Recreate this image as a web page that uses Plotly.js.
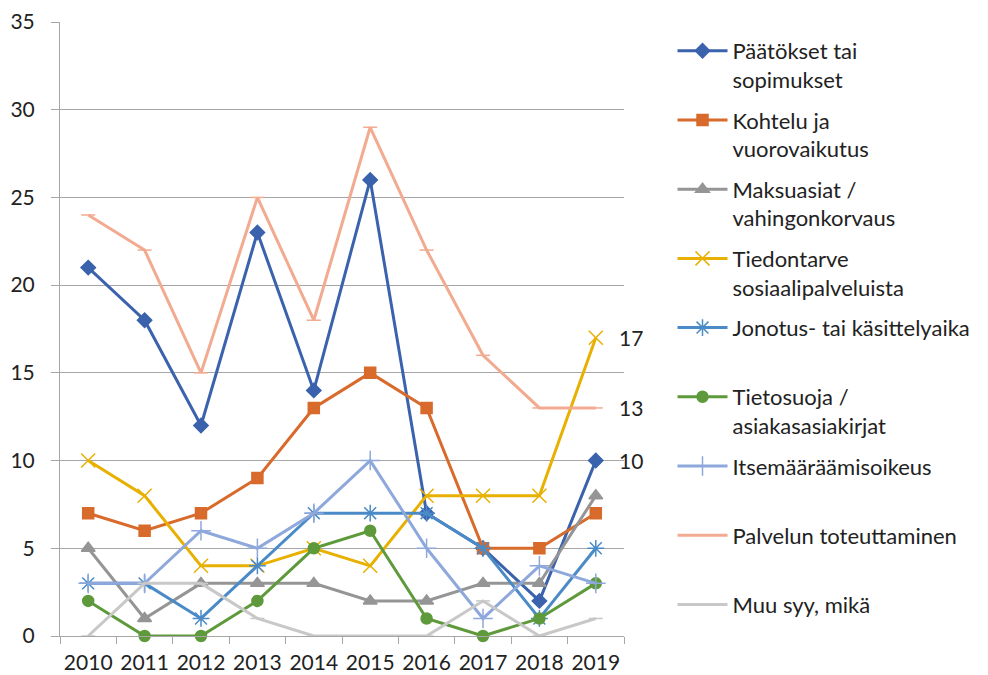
<!DOCTYPE html>
<html>
<head>
<meta charset="utf-8">
<script src="https://cdn.plot.ly/plotly-3.0.1.min.js"></script>
<style>html,body{margin:0;padding:0;background:#fff;}#chart{width:988px;height:675px;}</style>
</head>
<body>
<div id="chart"></div>
<script>
const years = ["2010","2011","2012","2013","2014","2015","2016","2017","2018","2019"];
const seriesNames = [
  "Päätökset tai<br>sopimukset",
  "Kohtelu ja<br>vuorovaikutus",
  "Maksuasiat /<br>vahingonkorvaus",
  "Tiedontarve<br>sosiaalipalveluista",
  "Jonotus- tai käsittelyaika<br> ",
  "Tietosuoja /<br>asiakasasiakirjat",
  "Itsemääräämisoikeus<br> ",
  "Palvelun toteuttaminen<br> ",
  "Muu syy, mikä<br> "
];
const paatokset   = [21, 18, 12, 23, 14, 26, 7, 5, 2, 10];
const kohtelu     = [7, 6, 7, 9, 13, 15, 13, 5, 5, 7];
const maksuasiat  = [5, 1, 3, 3, 3, 2, 2, 3, 3, 8];
const tiedontarve = [10, 8, 4, 4, 5, 4, 8, 8, 8, 17];
const jonotus     = [3, 3, 1, 4, 7, 7, 7, 5, 1, 5];
const tietosuoja  = [2, 0, 0, 2, 5, 6, 1, 0, 1, 3];
const itsemaar    = [3, 3, 6, 5, 7, 10, 5, 1, 4, 3];
const palvelun    = [24, 22, 15, 25, 18, 29, 22, 16, 13, 13];
const muu         = [0, 3, 3, 1, 0, 0, 0, 2, 0, 1];

const allValues = [paatokset, kohtelu, maksuasiat, tiedontarve, jonotus, tietosuoja, itsemaar, palvelun, muu];
const colors = ["#3A62AD", "#D86A2B", "#959595", "#E8B000", "#4A8BC7", "#5E9A3B", "#8EA8DB", "#F2AA90", "#C8C8C8"];
const symbols = ["diamond", "square", "triangle-up", "x-thin-open", "asterisk-open", "circle", "cross-thin-open", "line-ew-open", "line-ew-open"];
const sizes = [11, 11, 12, 14, 14, 11, 14, 10, 10];
const labelled = [0, 3, 7];
const FONT = "Lato, 'Open Sans', sans-serif";

const traces = allValues.map((vals, i) => ({
  type: "scatter",
  mode: "lines+markers",
  x: years,
  y: vals,
  name: seriesNames[i],
  legendgroup: "g" + i,
  line: {color: colors[i], width: 3},
  marker: {symbol: symbols[i], size: sizes[i], color: colors[i], line: {color: colors[i], width: 1.5}},
  cliponaxis: false,
  hoverinfo: "x+y"
}));

const lastIdx = years.length - 1;
const annotations = labelled.map(i => ({
  x: lastIdx,
  y: allValues[i][lastIdx],
  xref: "x", yref: "y",
  text: String(allValues[i][lastIdx]),
  showarrow: false,
  xanchor: "left",
  xshift: 21,
  font: {family: FONT, size: 21, color: "#222"}
}));

const layout = {
  width: 988, height: 675,
  margin: {l: 60, r: 360, t: 22, b: 39},
  paper_bgcolor: "#fff", plot_bgcolor: "#fff",
  font: {family: FONT, size: 21, color: "#222"},
  showlegend: true,
  legend: {
    x: 1.086, xanchor: "left", y: 0.987, yanchor: "top",
    traceorder: "grouped", tracegroupgap: 9, valign: "top",
    font: {family: FONT, size: 22, color: "#222"},
    itemwidth: 50, bgcolor: "rgba(0,0,0,0)"
  },
  xaxis: {
    type: "category", range: [-0.5, 9.5],
    showgrid: false, showline: true, linecolor: "#A6A6A6", linewidth: 1,
    ticks: "outside", tickson: "boundaries", ticklen: 7, tickcolor: "#A6A6A6",
    ticklabelstandoff: 8, tickangle: 0,
    tickfont: {size: 21, color: "#222"}, fixedrange: true
  },
  yaxis: {
    range: [0, 35], dtick: 5, tick0: 0,
    showgrid: true, gridcolor: "#A6A6A6", gridwidth: 1,
    showline: true, linecolor: "#A6A6A6", linewidth: 1, zeroline: false,
    ticks: "outside", ticklen: 8, tickcolor: "#A6A6A6",
    ticklabelstandoff: 12,
    tickfont: {size: 21, color: "#222"}, fixedrange: true
  },
  annotations: annotations
};

Plotly.newPlot("chart", traces, layout, {displayModeBar: false, staticPlot: true});
</script>
</body>
</html>
